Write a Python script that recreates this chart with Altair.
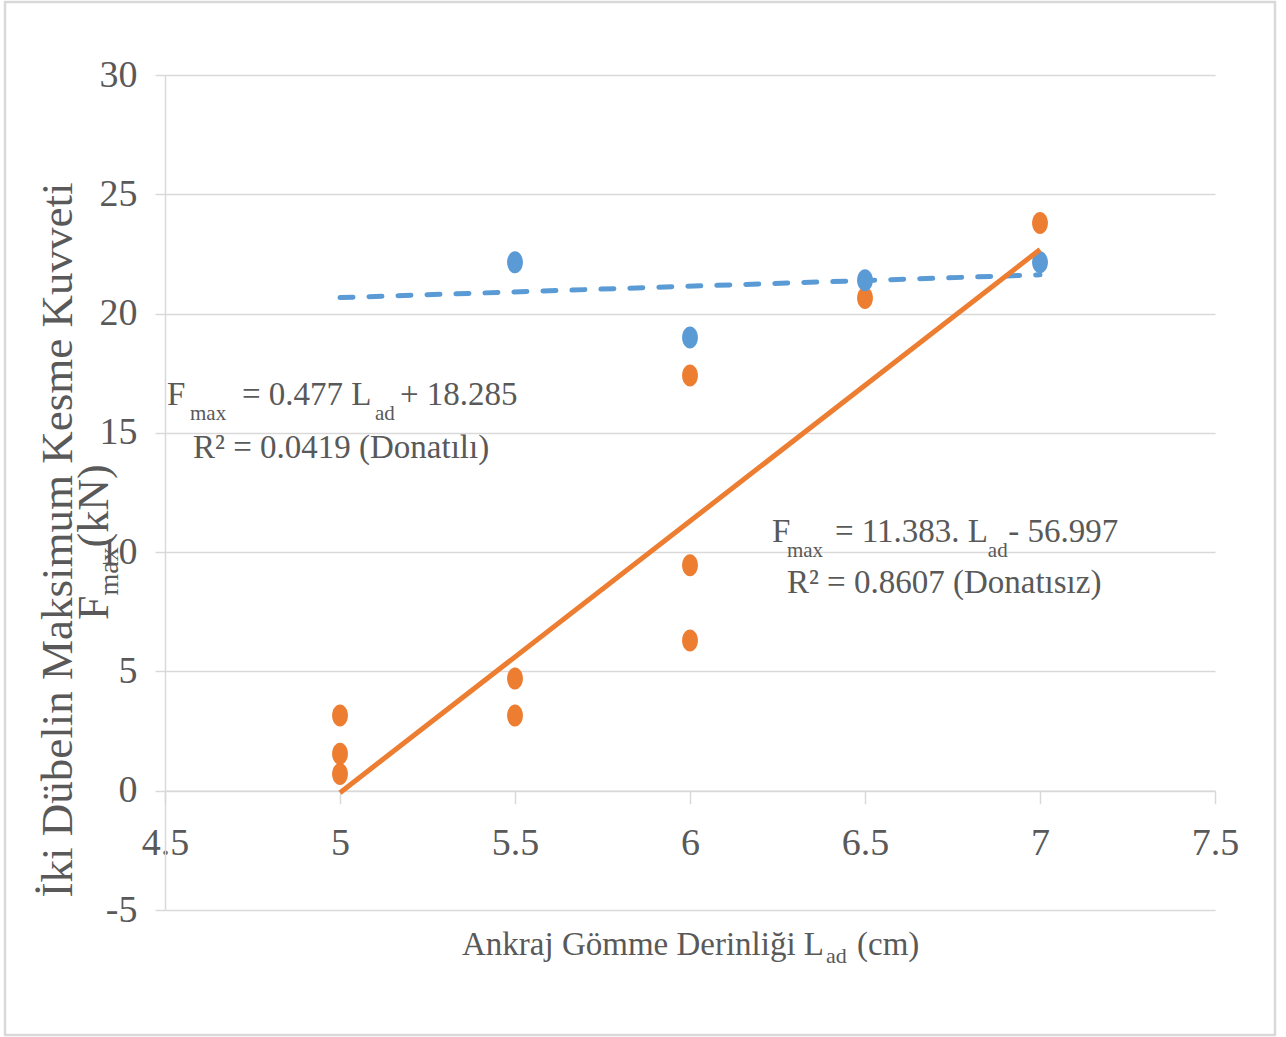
import altair as alt
import pandas as pd

# ---------------- data ----------------
series_names = ["Donatısız", "Donatılı"]
series_colors = ["#ED7D31", "#5B9BD5"]

donatisiz_x = [5, 5, 5, 5.5, 5.5, 6, 6, 6, 6.5, 7]
donatisiz_y = [3.15, 1.55, 0.7, 4.7, 3.15, 17.4, 9.45, 6.3, 20.65, 23.8]

donatili_x = [5.5, 6, 6.5, 7]
donatili_y = [22.15, 19.0, 21.4, 22.15]

# trend lines (equations printed on the chart)
trend_slope = {"Donatılı": 0.477, "Donatısız": 11.383}
trend_intercept = {"Donatılı": 18.285, "Donatısız": -56.997}
trend_extent = [5, 7]

x_ticks = [4.5, 5, 5.5, 6, 6.5, 7, 7.5]
y_ticks = [-5, 0, 5, 10, 15, 20, 25, 30]

# ---------------- tables ----------------
points = pd.DataFrame(
    {"x": donatisiz_x, "y": donatisiz_y, "series": "Donatısız"}
)
points = pd.concat(
    [points, pd.DataFrame({"x": donatili_x, "y": donatili_y, "series": "Donatılı"})],
    ignore_index=True,
)

trend_rows = []
for s in series_names:
    for xv in trend_extent:
        trend_rows.append({"x": xv, "y": trend_slope[s] * xv + trend_intercept[s], "series": s})
trend = pd.DataFrame(trend_rows)

# ---------------- styling ----------------
FONT = "Liberation Serif"
TXT = "#595959"
GRID = "#D9D9D9"
W, H = 1050, 835
Y_MIN, Y_MAX = -5, 30
zero_offset = -(H * (0 - Y_MIN) / (Y_MAX - Y_MIN))

xscale = alt.Scale(domain=[4.5, 7.5], nice=False, zero=False)
yscale = alt.Scale(domain=[Y_MIN, Y_MAX], nice=False, zero=False)

xaxis = alt.Axis(
    values=x_ticks, format="~g", title=None, grid=False,
    offset=zero_offset, domainColor=GRID, domainWidth=1.5,
    tickColor=GRID, tickSize=13, tickWidth=1.5,
    labelFont=FONT, labelFontSize=38, labelColor=TXT, labelPadding=21,
    labelFlush=False, labelOverlap=False,
)
yaxis = alt.Axis(
    values=y_ticks, title=None, grid=True, gridColor=GRID, gridWidth=1.5,
    domainColor=GRID, domainWidth=1.5, tickColor=GRID, tickSize=10, tickWidth=1.5,
    labelFont=FONT, labelFontSize=38, labelColor=TXT, labelPadding=18,
    labelFlush=False, labelOverlap=False,
    labelExpr="replace(datum.label, '\u2212', '-')",
)

color = alt.Color(
    "series:N",
    scale=alt.Scale(domain=series_names, range=series_colors),
    legend=None,
)

ELLIPSE = "M -0.72 0 A 0.72 1 0 1 1 0.72 0 A 0.72 1 0 1 1 -0.72 0 Z"

frame = alt.Chart(pd.DataFrame({"a": [0]})).mark_rect(
    fillOpacity=0, stroke=GRID, strokeWidth=2.5
).encode(
    x=alt.value(-160), x2=alt.value(1110), y=alt.value(-73), y2=alt.value(960)
)

pts = alt.Chart(points).mark_point(
    filled=True, shape=ELLIPSE, size=484, opacity=1, strokeWidth=0
).encode(
    x=alt.X("x:Q", scale=xscale, axis=xaxis),
    y=alt.Y("y:Q", scale=yscale, axis=yaxis),
    color=color,
)

blue_line = alt.Chart(trend[trend.series == "Donatılı"]).mark_line(
    strokeWidth=5, strokeDash=[13, 16], strokeCap="round", color="#5B9BD5"
).encode(x=alt.X("x:Q", scale=xscale), y=alt.Y("y:Q", scale=yscale))

orange_line = alt.Chart(trend[trend.series == "Donatısız"]).mark_line(
    strokeWidth=5, color="#ED7D31"
).encode(x=alt.X("x:Q", scale=xscale), y=alt.Y("y:Q", scale=yscale))

one = pd.DataFrame({"a": [0]})


def dtext(text, x, y, size, dy=0):
    """text anchored in data coordinates"""
    return alt.Chart(one).mark_text(
        text=text, font=FONT, fontSize=size, color=TXT, align="left",
        baseline="alphabetic", dy=dy,
    ).encode(x=alt.datum(x), y=alt.datum(y))


def ptext(text, x, y, size, dy=0, angle=0, align="left"):
    """title text anchored in pixels"""
    kw = dict(text=text, font=FONT, fontSize=size, color=TXT, align=align,
              baseline="alphabetic", dy=dy)
    if angle:
        kw["angle"] = angle
    return alt.Chart(one).mark_text(**kw).encode(x=alt.value(x), y=alt.value(y))


# equation annotations
eq1_y, eq1b_y = 16.17, 13.95
eq2_y, eq2b_y = 10.43, 8.29
annots = [
    dtext("F", 4.5057, eq1_y, 33),
    dtext("max", 4.5714, eq1_y, 21, dy=15),
    dtext("= 0.477 L", 4.72, eq1_y, 33),
    dtext("ad", 5.10, eq1_y, 21, dy=15),
    dtext("+ 18.285", 5.1714, eq1_y, 33),
    dtext("R² = 0.0419 (Donatılı)", 4.58, eq1b_y, 33),
    dtext("F", 6.2343, eq2_y, 33),
    dtext("max", 6.277, eq2_y, 21, dy=15),
    dtext("= 11.383.  L", 6.414, eq2_y, 33),
    dtext("ad", 6.851, eq2_y, 21, dy=15),
    dtext("- 56.997", 6.909, eq2_y, 33),
    dtext("R² = 0.8607  (Donatısız)", 6.277, eq2b_y, 33),
]

titles = [
    ptext("Ankraj Gömme Derinliği  L", 297, 880, 33),
    ptext("ad", 661, 880, 22, dy=8),
    ptext("(cm)", 692, 880, 33),
    ptext("İki Dübelin Maksimum Kesme Kuvveti", -93, 465, 45, angle=270, align="center"),
    ptext("F", -57, 545, 44, angle=270),
    ptext("max", -57, 520.5, 28, dy=10, angle=270),
    ptext("(kN)", -57, 472.5, 44, angle=270),
]

chart = alt.layer(
    frame, pts, blue_line, orange_line, *annots, *titles
).properties(
    width=W, height=H,
    autosize=alt.AutoSizeParams(type="none"),
    padding={"left": 165, "top": 75, "right": 71, "bottom": 127},
    background="white",
).configure_view(stroke=None)

chart.save("out.html", embed_options={"renderer": "svg", "actions": False})
